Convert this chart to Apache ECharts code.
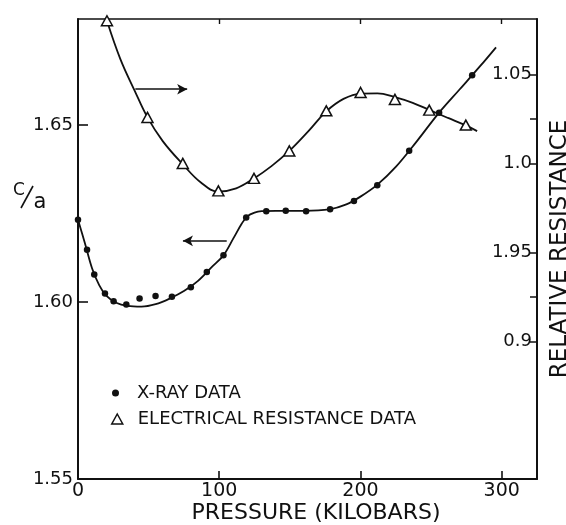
<!DOCTYPE html>
<html>
<head>
<meta charset="utf-8">
<script src="https://cdn.jsdelivr.net/npm/echarts@6/dist/echarts.min.js"></script>
<style>
  html, body { margin: 0; padding: 0; background: #fff; }
  #chart { width: 566px; height: 525px; }
</style>
</head>
<body>
<div id="chart"></div>
<script>
// X-ray measurements of c/a versus pressure (kilobars)
const xrayPressure = [0, 6.4, 11.5, 19.1, 25.2, 34.2, 43.6, 54.9, 66.5, 79.9, 91.2, 103.0, 119.1, 133.3, 147.1, 161.5, 178.5, 195.4, 211.9, 234.5, 255.7, 279.1];
const xrayCa = [1.6233, 1.6148, 1.6078, 1.6024, 1.6002, 1.5993, 1.6010, 1.6017, 1.6015, 1.6042, 1.6085, 1.6132, 1.6239, 1.6257, 1.6258, 1.6257, 1.6262, 1.6286, 1.6330, 1.6428, 1.6535, 1.6641];

// Drawn trend curve through the X-ray data
const xrayCurvePressure = [0, 5, 10, 15, 20, 27, 35, 45, 55, 65, 75, 85, 95, 103, 110, 116, 120, 125, 130, 140, 160, 178, 190, 200, 212, 225, 240, 255, 270, 285, 296];
const xrayCurveCa = [1.6233, 1.6165, 1.6095, 1.6048, 1.6018, 1.5998, 1.5989, 1.5987, 1.5994, 1.6010, 1.6031, 1.6060, 1.6100, 1.6132, 1.6180, 1.6222, 1.6243, 1.6253, 1.6257, 1.6258, 1.6258, 1.6262, 1.6276, 1.6298, 1.6332, 1.6382, 1.6455, 1.6532, 1.6600, 1.6668, 1.6720];

// Electrical resistance measurements (relative resistance) versus pressure
const resPressure = [20.5, 49.2, 74.2, 99.4, 124.6, 149.6, 175.8, 200.1, 224.4, 248.7, 274.6];
const resRelative = [1.080, 1.0258, 1.0000, 0.9846, 0.9916, 1.0070, 1.0295, 1.0398, 1.0359, 1.0299, 1.0215];

// Drawn trend curve through the resistance data
const resCurvePressure = [20.5, 30, 40, 49.2, 60, 74.2, 87, 99.4, 112, 124.6, 137, 149.6, 163, 175.8, 188, 200.1, 212, 224.4, 237, 248.7, 262, 274.6, 282.6];
const resCurveRelative = [1.080, 1.0585, 1.0410, 1.0258, 1.0125, 0.9995, 0.9893, 0.9842, 0.9860, 0.9916, 0.9985, 1.0070, 1.0180, 1.0292, 1.0362, 1.0392, 1.0393, 1.0372, 1.0340, 1.0300, 1.0255, 1.0213, 1.0181];

// Tick labels
const pressureTicks = [0, 100, 200, 300];
const pressureTickLabels = ['0', '100', '200', '300'];
const caTicks = [1.55, 1.60, 1.65];
const caTickLabels = ['1.55', '1.60', '1.65'];
const resTicks = [0.9, 0.95, 1.0, 1.05];
const resTickLabels = ['0.9', '1.95', '1.0', '1.05'];
const resTickMarks = [0.9, 0.925, 0.95, 1.0, 1.025, 1.05];

const zip = (a, b) => a.map((v, i) => [v, b[i]]);
const labelFor = (values, labels) => (v) => {
  const i = values.findIndex(t => Math.abs(t - v) < 1e-6);
  return i >= 0 ? labels[i] : '';
};

const INK = '#111';
const FONT = 'DejaVu Sans';

const chart = echarts.init(document.getElementById('chart'), null, { renderer: 'canvas' });

const option = {
  animation: false,
  backgroundColor: '#fff',
  textStyle: { fontFamily: FONT, color: INK },
  grid: { left: 78, right: 29, top: 19, bottom: 46, containLabel: false, outerBoundsMode: 'none' },
  xAxis: [
    {
      type: 'value', position: 'bottom', min: 0, max: 325,
      axisLine: { show: true, lineStyle: { color: INK, width: 1.8 } },
      axisTick: { show: true, inside: true, length: 8, customValues: pressureTicks, lineStyle: { color: INK, width: 1.6 } },
      axisLabel: { customValues: pressureTicks, formatter: labelFor(pressureTicks, pressureTickLabels), fontSize: 19, color: INK, fontFamily: FONT, margin: 3 },
      splitLine: { show: false }
    },
    {
      type: 'value', position: 'top', min: 0, max: 325,
      axisLine: { show: true, onZero: false, lineStyle: { color: INK, width: 1.6 } },
      axisTick: { show: true, inside: true, length: 5, customValues: [100, 200, 300], lineStyle: { color: INK, width: 1.4 } },
      axisLabel: { show: false },
      splitLine: { show: false }
    }
  ],
  yAxis: [
    {
      type: 'value', position: 'left', min: 1.55, max: 1.680, interval: 0.05,
      axisLine: { show: true, onZero: false, lineStyle: { color: INK, width: 2 } },
      axisTick: { show: true, inside: true, length: 10, customValues: caTicks, lineStyle: { color: INK, width: 1.6 } },
      axisLabel: { customValues: caTicks, formatter: labelFor(caTicks, caTickLabels), fontSize: 18, color: INK, fontFamily: FONT, margin: 5 },
      splitLine: { show: false }
    },
    {
      type: 'value', position: 'right', min: 0.823, max: 1.081,
      name: 'RELATIVE RESISTANCE', nameLocation: 'middle', nameRotate: 90, nameGap: 12,
      nameTextStyle: { fontSize: 23, color: INK, fontFamily: FONT },
      axisLine: { show: true, onZero: false, lineStyle: { color: INK, width: 2 } },
      axisTick: { show: true, inside: true, length: 7, customValues: resTickMarks, lineStyle: { color: INK, width: 1.5 } },
      axisLabel: { inside: true, customValues: resTicks, formatter: labelFor(resTicks, resTickLabels), fontSize: 18, color: INK, fontFamily: FONT, margin: 5 },
      splitLine: { show: false }
    }
  ],
  legend: [
    {
      data: ['X-RAY DATA'], orient: 'vertical', left: 112, top: 384, padding: 0,
      selectedMode: false, icon: 'circle', itemWidth: 7, itemHeight: 7,
      itemStyle: { color: INK, opacity: 1 },
      textStyle: { fontSize: 18, color: INK, fontFamily: FONT, padding: [0, 0, 0, 13] }
    },
    {
      data: ['ELECTRICAL RESISTANCE DATA'], orient: 'vertical', left: 111, top: 410, padding: 0,
      selectedMode: false, icon: 'triangle', itemWidth: 11, itemHeight: 10,
      itemStyle: { color: '#fff', borderColor: INK, borderWidth: 1.5, opacity: 1 },
      textStyle: { fontSize: 18, color: INK, fontFamily: FONT, padding: [0, 0, 0, 10] }
    }
  ],
  graphic: [
    // c/a axis title, written as a fraction
    { type: 'text', x: 19, y: 191, style: { text: 'C', font: '17px "DejaVu Sans"', fill: INK, align: 'center', verticalAlign: 'middle' } },
    { type: 'line', shape: { x1: 21, y1: 208, x2: 33, y2: 186 }, style: { stroke: INK, lineWidth: 1.6 } },
    { type: 'text', x: 40, y: 203, style: { text: 'a', font: '21px "DejaVu Sans"', fill: INK, align: 'center', verticalAlign: 'middle' } },
    // pressure axis title
    { type: 'text', x: 316, y: 513, style: { text: 'PRESSURE (KILOBARS)', font: '22px "DejaVu Sans"', fill: INK, align: 'center', verticalAlign: 'middle' } }
  ],
  series: [
    {
      name: 'X-ray trend', type: 'line', xAxisIndex: 0, yAxisIndex: 0,
      data: zip(xrayCurvePressure, xrayCurveCa),
      symbol: 'none', smooth: 0.35, silent: true, z: 2,
      lineStyle: { color: INK, width: 1.8 },
      markLine: {
        silent: true, symbol: ['none', 'arrow'], symbolSize: [8, 10],
        label: { show: false },
        lineStyle: { color: INK, width: 1.6, type: 'solid' },
        data: [[{ coord: [105.3, 1.6173] }, { coord: [74.3, 1.6173] }]]
      }
    },
    {
      name: 'Resistance trend', type: 'line', xAxisIndex: 0, yAxisIndex: 1,
      data: zip(resCurvePressure, resCurveRelative),
      symbol: 'none', smooth: 0.4, silent: true, z: 2,
      lineStyle: { color: INK, width: 1.8 },
      markLine: {
        silent: true, symbol: ['none', 'arrow'], symbolSize: [8, 10],
        label: { show: false },
        lineStyle: { color: INK, width: 1.6, type: 'solid' },
        data: [[{ coord: [40.6, 1.0416] }, { coord: [77.3, 1.0416] }]]
      }
    },
    {
      name: 'X-RAY DATA', type: 'scatter', xAxisIndex: 0, yAxisIndex: 0,
      data: zip(xrayPressure, xrayCa),
      symbol: 'circle', symbolSize: 6.5, z: 3,
      itemStyle: { color: INK, opacity: 1 }
    },
    {
      name: 'ELECTRICAL RESISTANCE DATA', type: 'scatter', xAxisIndex: 0, yAxisIndex: 1,
      data: zip(resPressure, resRelative),
      symbol: 'triangle', symbolSize: [11, 10], z: 4,
      itemStyle: { color: '#fff', borderColor: INK, borderWidth: 1.5, opacity: 1 }
    }
  ]
};

chart.setOption(option);
</script>
</body>
</html>
